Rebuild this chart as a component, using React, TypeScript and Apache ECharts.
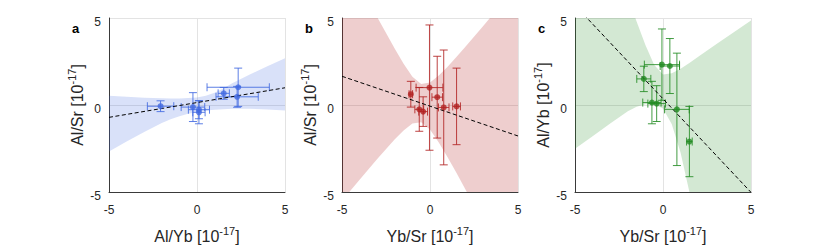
import React, { useEffect, useRef } from 'react';
import * as echarts from 'echarts';

// ---- data (units of 1e-17) ----
const panelLetters = ['a', 'b', 'c'];
const xNames = ['Al/Yb', 'Yb/Sr', 'Yb/Sr'];
const yNames = ['Al/Sr', 'Al/Sr', 'Al/Yb'];
const axisMin = -5;
const axisMax = 5;
const axisStep = 5;

// panel a
const aX = [-2.07, -0.23, 0.11, 0.11, 1.52, 2.34, 2.28];
const aY = [-0.07, -0.12, -0.27, -0.42, 0.67, 1.02, 0.47];
const aXErr = [0.75, 0.67, 0.6, 0.35, 0.32, 1.77, 1.2];
const aYErr = [0.31, 0.83, 0.52, 0.66, 0.34, 1.1, 0.6];
const aFitX = [-5, 5];
const aFitY = [-0.71, 0.99];

// panel b
const bX = [-1.09, -0.61, -0.39, -0.03, 0.41, 0.78, 1.51];
const bY = [0.62, -0.25, -0.38, 1.0, 0.45, -0.14, -0.08];
const bXErr = [0.1, 0.25, 0.25, 0.76, 0.3, 0.3, 0.22];
const bYErr = [0.74, 1.26, 0.85, 3.6, 2.35, 3.3, 2.2];
const bFitX = [-5, 5];
const bFitY = [1.65, -1.78];

// panel c
const cX = [-1.09, -0.63, -0.36, -0.06, 0.39, 0.79, 1.5];
const cY = [1.5, 0.14, 0.08, 2.32, 2.24, -0.25, -2.1];
const cXErr = [0.4, 0.52, 0.5, 1.0, 0.55, 0.7, 0.16];
const cYErr = [0.73, 1.22, 1.03, 2.05, 1.58, 3.23, 2.02];
const cFitX = [-5, 5];
const cFitY = [5.73, -5.02];

// confidence bands, sampled at bandX
const bandX = [-5, -4, -3, -2, -1.5, -1, -0.5, 0, 0.5, 1, 1.5, 2, 3, 4, 5];
const aBandUpper = [0.53, 0.47, 0.42, 0.39, 0.38, 0.38, 0.4, 0.43, 0.53, 0.7, 0.95, 1.25, 1.76, 2.22, 2.69];
const aBandLower = [-2.67, -2.1, -1.55, -1.03, -0.82, -0.65, -0.5, -0.4, -0.32, -0.27, -0.24, -0.22, -0.22, -0.26, -0.31];
const bBandUpper = [8.81, 6.91, 5.05, 3.23, 2.37, 1.63, 1.21, 1.29, 1.69, 2.2, 2.76, 3.33, 4.51, 5.72, 6.94];
const bBandLower = [-5.5, -4.29, -3.11, -1.97, -1.47, -1.07, -0.99, -1.41, -2.15, -3.0, -3.9, -4.83, -6.69, -8.58, -10.49];
const cBandUpper = [14.9, 12.0, 9.1, 6.2, 4.8, 3.45, 2.3, 1.75, 1.82, 2.08, 2.42, 2.78, 3.48, 4.17, 4.86];
const cBandLower = [-2.52, -1.8, -1.07, -0.36, -0.1, 0.05, 0.05, -0.2, -1.1, -2.75, -5.0, -7.0, -11, -15, -19];

const colors = ['#4169E1', '#B22222', '#228B22'];
const bandColors = ['rgba(65,105,225,0.2)', 'rgba(178,34,34,0.22)', 'rgba(34,139,34,0.2)'];

const FONT = '"Liberation Sans", Arial, Helvetica, sans-serif';
const TEXT = '#262626';

const gridLefts = [109, 342, 575];
const gridTop = 18;
const gridW = 176;
const gridH = 180;

function intersect(p: number[], q: number[], k: number, b: number) {
  const t = (b - p[k]) / (q[k] - p[k]);
  return [p[0] + t * (q[0] - p[0]), p[1] + t * (q[1] - p[1])];
}

// Sutherland-Hodgman clip of polygon against the square axis window
function clipPoly(pts: number[][], lo: number, hi: number) {
  let out = pts;
  const planes: [number, number, number][] = [
    [0, lo, 1],
    [0, hi, -1],
    [1, lo, 1],
    [1, hi, -1],
  ];
  for (const [k, b, s] of planes) {
    const input = out;
    out = [];
    if (!input.length) break;
    for (let i = 0; i < input.length; i++) {
      const cur = input[i];
      const prev = input[(i + input.length - 1) % input.length];
      const cin = s * (cur[k] - b) >= 0;
      const pin = s * (prev[k] - b) >= 0;
      if (cin) {
        if (!pin) out.push(intersect(prev, cur, k, b));
        out.push(cur);
      } else if (pin) {
        out.push(intersect(prev, cur, k, b));
      }
    }
  }
  return out;
}

function richName(base: string) {
  return `{n|${base} [10}{s|-17}{n|]}`;
}

const nameStyle = {
  fontFamily: FONT,
  color: TEXT,
  rich: {
    n: { fontSize: 16, fontFamily: FONT, color: TEXT, verticalAlign: 'bottom' },
    s: { fontSize: 11, fontFamily: FONT, color: TEXT, verticalAlign: 'top', padding: [0, 0, 8, 0] },
  },
};

const App: React.FC = () => {
  const ref = useRef<HTMLDivElement>(null);

  useEffect(() => {
    if (!ref.current) return;
    const chart = echarts.init(ref.current, undefined, { renderer: 'svg' });

    const panels = [
      { xs: aX, ys: aY, xe: aXErr, ye: aYErr, fx: aFitX, fy: aFitY, up: aBandUpper, lo: aBandLower },
      { xs: bX, ys: bY, xe: bXErr, ye: bYErr, fx: bFitX, fy: bFitY, up: bBandUpper, lo: bBandLower },
      { xs: cX, ys: cY, xe: cXErr, ye: cYErr, fx: cFitX, fy: cFitY, up: cBandUpper, lo: cBandLower },
    ];

    const grid = gridLefts.map((left) => ({ left, top: gridTop, width: gridW, height: gridH }));

    const axisCommon = {
      type: 'value',
      min: axisMin,
      max: axisMax,
      interval: axisStep,
      nameLocation: 'middle',
      nameTextStyle: nameStyle,
      axisLine: { show: true, onZero: false, lineStyle: { color: '#3a3a3a', width: 1 } },
      axisTick: { show: false },
      splitLine: { show: true, lineStyle: { color: '#e3e3e3', width: 1 } },
    };

    const xAxis = panels.map((_, i) => ({
      ...axisCommon,
      gridIndex: i,
      name: richName(xNames[i]),
      nameGap: 33,
      axisLabel: { fontSize: 12, color: TEXT, fontFamily: FONT, margin: 12 },
    }));
    const yAxis = panels.map((_, i) => ({
      ...axisCommon,
      gridIndex: i,
      name: richName(yNames[i]),
      nameGap: 24,
      nameRotate: 90,
      axisLabel: {
        fontSize: 12,
        color: TEXT,
        fontFamily: FONT,
        margin: 8,
        formatter: (v: number) => `{v|${v}}`,
        rich: { v: { fontSize: 12, color: TEXT, fontFamily: FONT, padding: [8, 0, 0, 0] } },
      },
    }));

    const series: any[] = [];
    panels.forEach((p, i) => {
      const poly = [
        ...bandX.map((x, j) => [x, p.up[j]]),
        ...bandX.map((x, j) => [x, p.lo[j]]).reverse(),
      ];
      const clipped = clipPoly(poly, axisMin, axisMax);
      series.push({
        type: 'custom',
        xAxisIndex: i,
        yAxisIndex: i,
        z: 1,
        silent: true,
        data: [[0, 0]],
        renderItem: (_params: any, api: any) => ({
          type: 'polygon',
          shape: { points: clipped.map((pt) => api.coord(pt)) },
          style: { fill: bandColors[i] },
        }),
      });
      series.push({
        type: 'custom',
        xAxisIndex: i,
        yAxisIndex: i,
        z: 3,
        silent: true,
        encode: { x: 0, y: 1 },
        data: p.xs.map((x, j) => [x, p.ys[j], p.xe[j], p.ye[j]]),
        renderItem: (_params: any, api: any) => {
          const x = api.value(0);
          const y = api.value(1);
          const ex = api.value(2);
          const ey = api.value(3);
          const l = api.coord([x - ex, y]);
          const r = api.coord([x + ex, y]);
          const t = api.coord([x, y + ey]);
          const b = api.coord([x, y - ey]);
          const c = 4;
          const st = { stroke: colors[i], lineWidth: 1, opacity: 0.85 };
          const ln = (x1: number, y1: number, x2: number, y2: number) => ({
            type: 'line',
            shape: { x1, y1, x2, y2 },
            style: st,
          });
          return {
            type: 'group',
            children: [
              ln(l[0], l[1], r[0], r[1]),
              ln(l[0], l[1] - c, l[0], l[1] + c),
              ln(r[0], r[1] - c, r[0], r[1] + c),
              ln(t[0], t[1], b[0], b[1]),
              ln(t[0] - c, t[1], t[0] + c, t[1]),
              ln(b[0] - c, b[1], b[0] + c, b[1]),
            ],
          };
        },
      });
      series.push({
        type: 'line',
        xAxisIndex: i,
        yAxisIndex: i,
        z: 4,
        silent: true,
        symbol: 'none',
        clip: true,
        data: p.fx.map((x, j) => [x, p.fy[j]]),
        lineStyle: { color: '#000', width: 1, type: [4, 2.5] },
      });
      series.push({
        type: 'scatter',
        xAxisIndex: i,
        yAxisIndex: i,
        z: 5,
        silent: true,
        symbol: 'circle',
        symbolSize: 6,
        itemStyle: { color: colors[i] },
        data: p.xs.map((x, j) => [x, p.ys[j]]),
      });
    });

    const graphic = panelLetters.map((letter, i) => ({
      type: 'text',
      left: gridLefts[i] - 37,
      top: 22,
      style: { text: letter, font: `bold 13px ${FONT}`, fill: '#000' },
    }));

    chart.setOption({
      animation: false,
      backgroundColor: '#fff',
      grid,
      xAxis,
      yAxis,
      series,
      graphic,
    });

    return () => chart.dispose();
  }, []);

  return (
    <div
      ref={ref}
      style={{ position: 'absolute', left: 0, top: 0, width: 830, height: 249 }}
    />
  );
};

export default App;
